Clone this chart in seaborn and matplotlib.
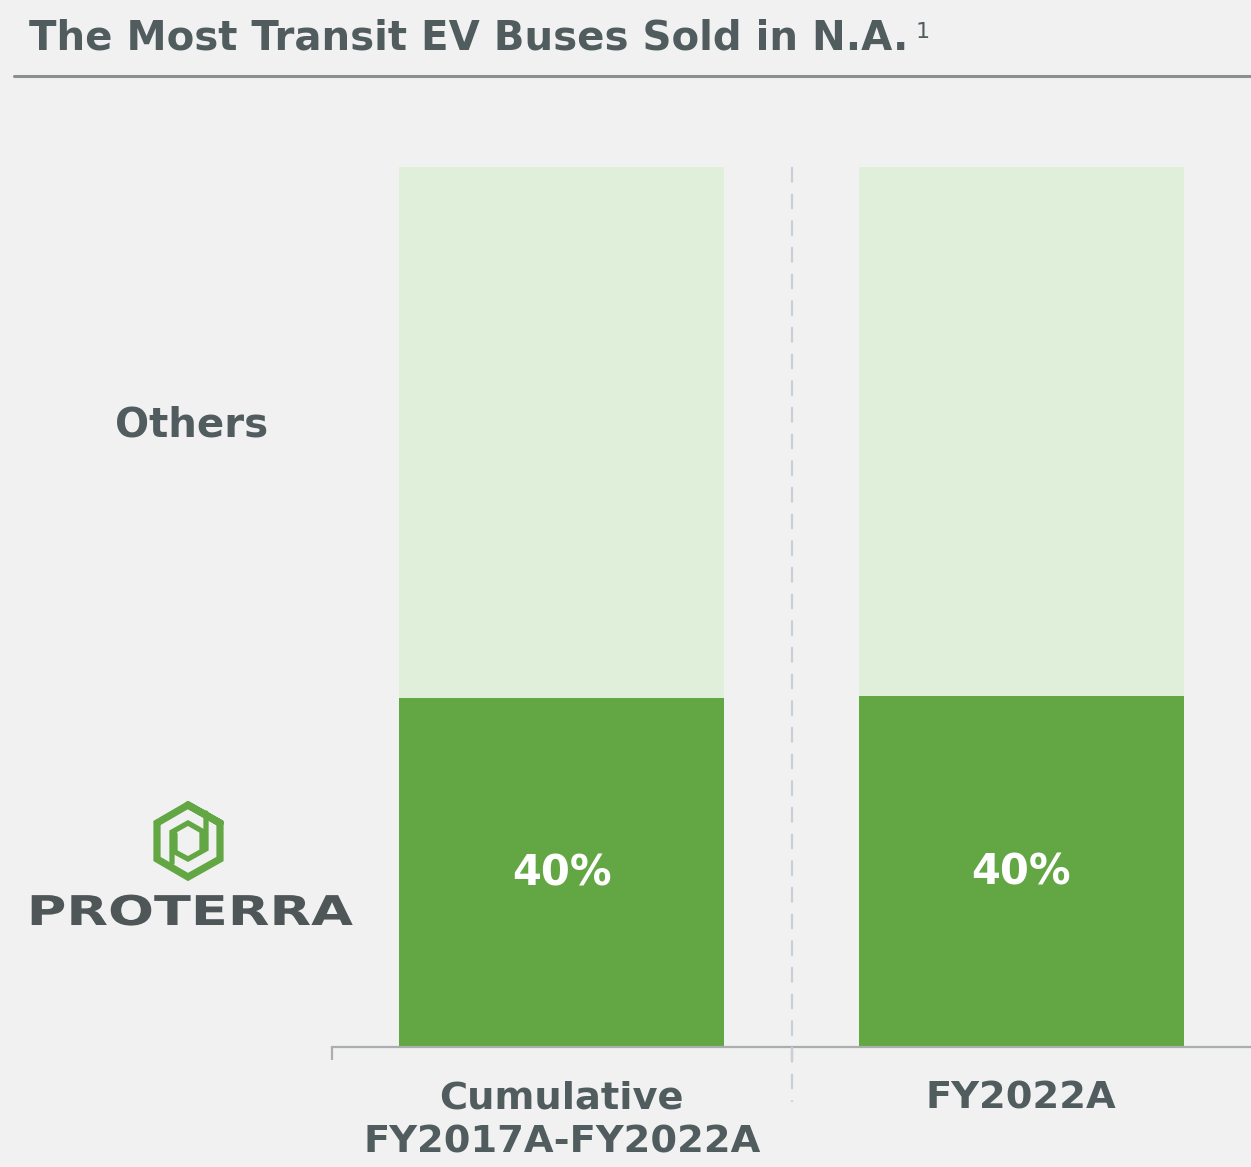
# The Most Transit EV Buses Sold in N.A.
import numpy as np
import pandas as pd
import matplotlib
matplotlib.use("Agg")
import matplotlib.pyplot as plt
from matplotlib.lines import Line2D
from matplotlib.patheffects import AbstractPathEffect
from matplotlib.transforms import Affine2D
import seaborn as sns

# data
periods = ["Cumulative\nFY2017A-FY2022A", "FY2022A"]
proterra_share = [39.7, 39.9]
others_share = [60.3, 60.1]
share_labels = ["40%", "40%"]
title_text = "The Most Transit EV Buses Sold in N.A."

# colours
bg = "#f1f1f1"
dark_green = "#63a744"
light_green = "#e0efd9"
text_col = "#505c5e"

W, H = 1251, 1167

sns.set_theme(style="white")
plt.rcParams['font.family'] = ['DejaVu Sans']

fig = plt.figure(figsize=(W / 100, H / 100), dpi=100, facecolor=bg)


def fx(px):
    return px / W


def fy(py):
    return 1 - py / H


# axes box: bars run 167 -> 1047 px in y, x axis runs from 332 to the right edge
ax = fig.add_axes([fx(332), fy(1047), fx(W - 332), (1047 - 167) / H], facecolor=bg)

df = pd.DataFrame({"period": periods, "proterra": proterra_share, "others": others_share})

sns.barplot(data=df, x="period", y="others", bottom=df["proterra"], color=light_green,
            saturation=1, width=0.708, linewidth=0, ax=ax)
sns.barplot(data=df, x="period", y="proterra", color=dark_green,
            saturation=1, width=0.708, linewidth=0, ax=ax)

ax.set_xlim(-0.5, 1.5)
ax.set_ylim(0, 100)
ax.set_xlabel("")
ax.set_ylabel("")
ax.set_yticks([])

for s in ["top", "left", "right"]:
    ax.spines[s].set_visible(False)
ax.spines["bottom"].set_color("#a9aeae")
ax.spines["bottom"].set_linewidth(1.6)

# boundary ticks, labels sit on minor ticks at the bar centres
ax.set_xticks([-0.5, 0.5])
ax.set_xticklabels(["", ""])
ax.tick_params(axis="x", which="major", length=9, width=1.6, color="#a9aeae", bottom=True)
ax.set_xticks([0, 1], minor=True)
ax.set_xticklabels(periods, minor=True, fontsize=27.6, fontweight="bold",
                   color=text_col, linespacing=1.3)
ax.tick_params(axis="x", which="minor", length=0, pad=24)

for i, lab in enumerate(share_labels):
    ax.annotate(lab, (i, proterra_share[i] / 2), xytext=(0, -1), textcoords="offset points",
                ha="center", va="center", color="white", fontsize=30, fontweight="bold")

# dashed divider between the two bars
fig.add_artist(Line2D([fx(792), fx(792)], [fy(167), fy(1102)], color="#c8cfd7", lw=1.6,
                      dashes=(7, 5)))

# header
fig.text(fx(29), fy(50), title_text, fontsize=29, fontweight="bold", color=text_col,
         ha="left", va="baseline")
fig.text(fx(916), fy(38), "1", fontsize=16, color=text_col, ha="left", va="baseline")
fig.add_artist(Line2D([fx(14), fx(W)], [fy(76), fy(76)], color="#8b8f8f", lw=2.2))

# row labels
fig.text(fx(192), fy(436), "Others", fontsize=29, fontweight="bold", color=text_col,
         ha="center", va="baseline")


# wordmark is much wider than the font, so stretch it around its centre
class Stretch(AbstractPathEffect):
    def __init__(self, sx, cx):
        super().__init__()
        self.sx = sx
        self.cx = cx

    def draw_path(self, renderer, gc, tpath, affine, rgbFace=None):
        stretched = affine + Affine2D().translate(-self.cx, 0).scale(self.sx, 1).translate(self.cx, 0)
        renderer.draw_path(gc, tpath, stretched, rgbFace)


fig.text(fx(190), fy(925), "PROTERRA", fontsize=29.5, fontweight="bold", color="#4f5658",
         ha="center", va="baseline", path_effects=[Stretch(1.32, 190)])


# logo mark, points given in pixels of the picture
def logo_line(pts, lw):
    xs = [fx(p[0]) for p in pts]
    ys = [fy(p[1]) for p in pts]
    fig.add_artist(Line2D(xs, ys, color=dark_green, lw=lw, solid_joinstyle="miter"))


logo_line([(188, 805), (220, 823), (220, 859), (188, 877), (157, 859), (157, 823), (188, 805), (220, 823)], 5.2)
logo_line([(172, 863), (172, 832), (188, 823), (202, 831), (202, 849)], 3.8)
logo_line([(206, 813), (206, 849), (188, 859), (175, 852), (175, 834)], 3.8)

fig.savefig("out.png", dpi=100, facecolor=bg)
